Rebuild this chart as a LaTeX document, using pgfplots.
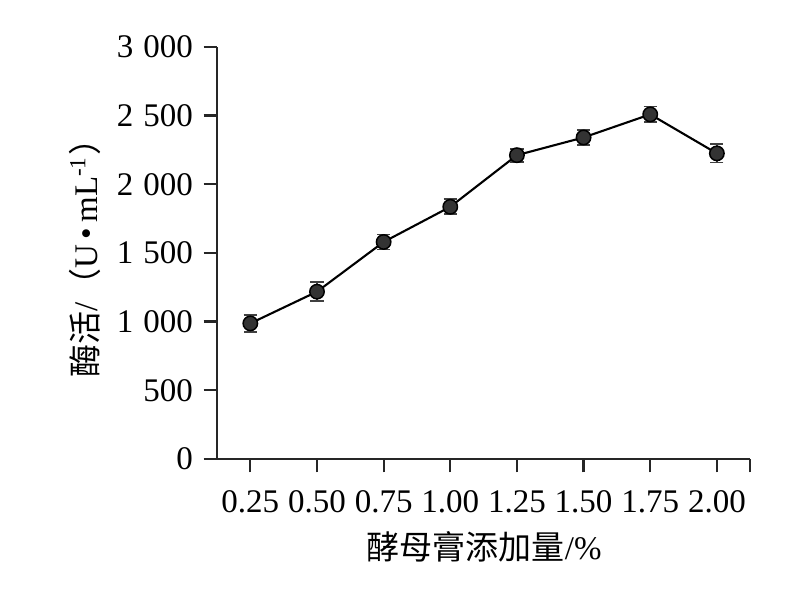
\documentclass[border=0pt]{standalone}
\usepackage{pgfplots}
\pgfplotsset{compat=1.18}
\usepackage{fontspec}
\setmainfont{Liberation Serif}
\newfontfamily\cjk{Noto Sans CJK SC}
\begin{document}
\begin{tikzpicture}
\begin{axis}[
  scale only axis, width=177.7pt, height=137.3pt,
  xmin=0.125, xmax=2.125, ymin=0, ymax=3000,
  axis x line*=bottom, axis y line*=left,
  x axis line style={-}, y axis line style={-},
  axis line style={line width=0.75pt, black!85},
  xtick={0.25,0.5,0.75,1,1.25,1.5,1.75,2,2.125},
  xticklabels={0.25,0.50,0.75,1.00,1.25,1.50,1.75,2.00,{}},
  ytick={0,500,1000,1500,2000,2500,3000},
  tick align=outside, major tick length=4.5pt,
  tick style={line width=0.75pt, black!85},
  /pgf/number format/.cd, 1000 sep={\hspace{0.3em}}, assume math mode=true, /pgfplots/.cd,
  ticklabel style={font=\fontsize{11}{13}\selectfont},
  xticklabel style={yshift=-2.5pt},
  clip=false,
  xlabel={\cjk 酵母膏添加量\rmfamily/\%},
  ylabel={\cjk 酶活\rmfamily/\cjk （\rmfamily U\,•\,mL\textsuperscript{-1}\cjk ）},
  every axis x label/.style={at={(rel axis cs:0.501,-0.214)}, anchor=center, font=\fontsize{11}{13}\selectfont},
  every axis y label/.style={at={(rel axis cs:-0.248,0.507)}, anchor=center, rotate=90, font=\fontsize{11}{13}\selectfont},
]
\path (rel axis cs:-0.407,-0.320) rectangle (rel axis cs:1.084,1.114);
\addplot[black, line width=0.7pt, mark=*, mark size=2.4pt,
  mark options={fill=black!80, draw=black, line width=0.5pt},
  error bars/.cd, y dir=both, y explicit,
  error bar style={black!75, line width=0.6pt},
  error mark options={rotate=90, mark size=2.2pt, black!75, line width=0.6pt}]
  table[x=x, y=y, y error=e] {
x y e
0.25 987 60
0.50 1218 69
0.75 1580 55
1.00 1836 55
1.25 2212 47
1.50 2341 55
1.75 2509 58
2.00 2225 67
};
\end{axis}
\end{tikzpicture}
\end{document}
